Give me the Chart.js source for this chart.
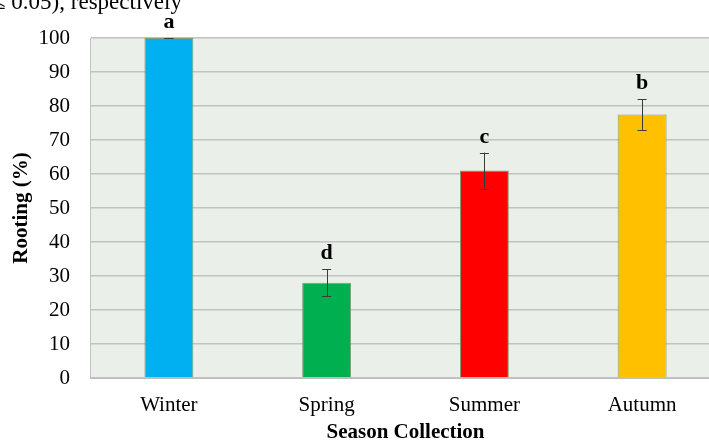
<!DOCTYPE html>
<html><head><meta charset="utf-8">
<script src="https://cdn.jsdelivr.net/npm/chart.js@4"></script>
<style>
html,body{margin:0;padding:0;overflow:hidden;width:709px;height:443px;background:#fff}
#wrap{position:relative;width:709px;height:443px;overflow:hidden}
#note{position:absolute;left:-7px;top:-11px;font-family:"Liberation Serif";font-size:23px;white-space:nowrap;color:#000}
canvas{position:absolute;left:0;top:0}
</style></head>
<body><div id="wrap"><canvas id="c" width="721" height="443" style="width:721px;height:443px"></canvas><div id="note">≤ 0.05), respectively</div></div>
<script>
const categories = ["Winter", "Spring", "Summer", "Autumn"];
const rooting = [100, 28, 61, 77.5];
const errors = [0, 4, 5.3, 4.5];
const letters = ["a", "d", "c", "b"];
const barColors = ["#00b0f0", "#00b050", "#ff0000", "#ffc000"];
const yTicks = [0,10,20,30,40,50,60,70,80,90,100];

const bgPlugin = {
  id: 'bg',
  beforeDraw(chart) {
    const {ctx, chartArea: a} = chart;
    ctx.save();
    ctx.fillStyle = '#ebefe9';
    ctx.fillRect(a.left, a.top, a.right - a.left, a.bottom - a.top);
    ctx.restore();
  }
};
const errPlugin = {
  id: 'err',
  afterDatasetsDraw(chart) {
    const {ctx} = chart;
    const meta = chart.getDatasetMeta(0);
    const y = chart.scales.y;
    ctx.save();
    meta.data.forEach((bar, i) => {
      const x = bar.x;
      const top = y.getPixelForValue(rooting[i] + errors[i]);
      const bot = y.getPixelForValue(rooting[i] - errors[i]);
      ctx.strokeStyle = '#3a3a3a';
      ctx.lineWidth = 1;
      ctx.beginPath();
      ctx.moveTo(Math.round(x) + 0.5, top); ctx.lineTo(Math.round(x) + 0.5, bot);
      ctx.moveTo(x - 4.5, Math.round(top) + 0.5); ctx.lineTo(x + 4.5, Math.round(top) + 0.5);
      ctx.moveTo(x - 4.5, Math.round(bot) + 0.5); ctx.lineTo(x + 4.5, Math.round(bot) + 0.5);
      ctx.stroke();
      ctx.fillStyle = '#000';
      ctx.font = 'bold 22px "Liberation Serif"';
      ctx.textAlign = 'center';
      ctx.textBaseline = 'alphabetic';
      ctx.fillText(letters[i], x, top - 10);
    });
    ctx.restore();
  }
};

new Chart(document.getElementById('c'), {
  type: 'bar',
  data: {
    labels: categories,
    datasets: [{
      data: rooting,
      backgroundColor: barColors,
      borderColor: 'rgba(120,150,100,0.9)',
      borderWidth: 1,
      barPercentage: 0.31,
      categoryPercentage: 1.0
    }]
  },
  options: {
    responsive: false,
    animation: false,
    layout: {padding: {top: 38, left: 0, right: 0, bottom: 0}},
    plugins: {legend: {display: false}, tooltip: {enabled: false}},
    scales: {
      x: {
        grid: {display: false},
        border: {display: true, color: '#bdbdbd'},
        ticks: {font: {family: 'Liberation Serif', size: 21}, color: '#000', padding: 7},
        title: {display: true, text: 'Season Collection', font: {family: 'Liberation Serif', size: 21, weight: 'bold', lineHeight: 1.0}, color: '#000', padding: 0},
        afterFit(s) { s.height = 65; }
      },
      y: {
        min: 0, max: 100,
        afterBuildTicks(s) { s.ticks = yTicks.map(v => ({value: v})); },
        grid: {color: '#c2c2c2', lineWidth: 1.5, drawTicks: false},
        border: {display: true, color: '#c2c2c2'},
        ticks: {font: {family: 'Liberation Serif', size: 21}, color: '#000', padding: 20},
        title: {display: true, text: 'Rooting (%)', font: {family: 'Liberation Serif', size: 21, weight: 'bold'}, color: '#000', padding: {top: 9, bottom: 0}},
        afterFit(s) { s.width = 90; }
      }
    }
  },
  plugins: [bgPlugin, errPlugin]
});
</script>
</body></html>
